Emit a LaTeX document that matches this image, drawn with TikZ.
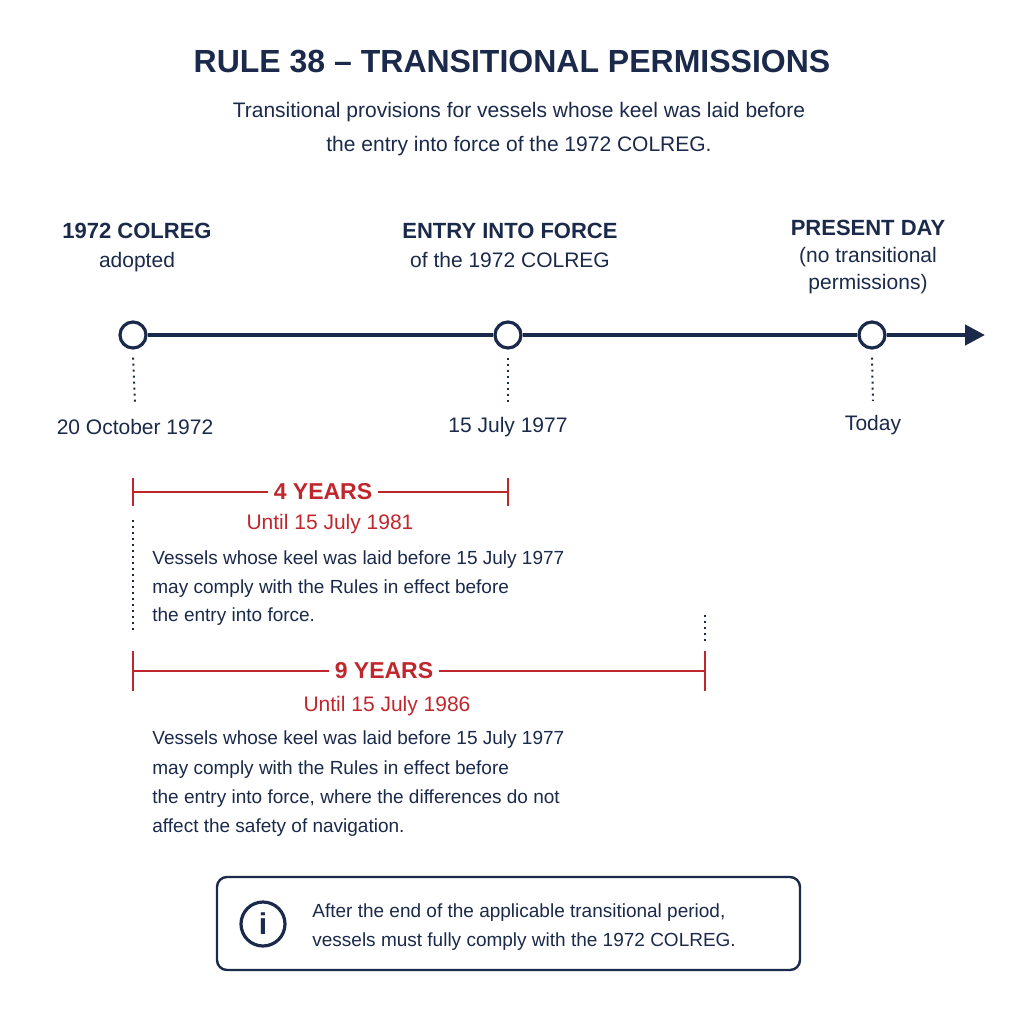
\documentclass[tikz,border=0pt]{standalone}
\usepackage{fontspec}
\setmainfont{Liberation Sans}
\usetikzlibrary{arrows.meta}
\definecolor{navy}{HTML}{1B2A4A}
\definecolor{rulered}{HTML}{C0272D}
\begin{document}
\begin{tikzpicture}[x=0.5pt,y=-0.5pt,
    every node/.style={inner sep=1pt, text=navy},
    event/.style={circle, draw=navy, line width=1.6pt, fill=white, minimum size=13pt, inner sep=0pt},
    head/.style={font=\fontsize{11}{13}\selectfont\bfseries},
    sub/.style={font=\fontsize{10.5}{13}\selectfont},
    body/.style={font=\fontsize{9.5}{12}\selectfont, anchor=west},
    span/.style={draw=rulered, line width=1.1pt},
    spanlbl/.style={font=\fontsize{11.5}{13}\selectfont\bfseries, text=rulered, fill=white, inner sep=3pt},
    until/.style={font=\fontsize{10.5}{13}\selectfont, text=rulered},
    guide/.style={draw=navy, line width=1pt, dotted}]
    \useasboundingbox[fill=white] (0,0) rectangle (1024,1024);

    % title
    \node[font=\fontsize{16}{18}\selectfont\bfseries] (title) at (512,62) {RULE 38 – TRANSITIONAL PERMISSIONS};
    \node[sub] (intro1) at (519,112) {Transitional provisions for vessels whose keel was laid before};
    \node[sub] (intro2) at (519,146) {the entry into force of the 1972 COLREG.};

    % timeline
    \coordinate (tend) at (985,335);
    \node[event] (e1) at (133,335) {};
    \node[event] (e2) at (508,335) {};
    \node[event] (e3) at (872,335) {};
    \draw[navy, line width=2.2pt, -{Triangle[length=10pt,width=10pt]}] (e1) -- (e2) -- (e3) -- (tend);

    \node[head] (h1) at (137,231) {1972 COLREG};
    \node[sub] (s1) at (137,262) {adopted};
    \node[head] (h2) at (510,231) {ENTRY INTO FORCE};
    \node[sub] (s2) at (510,260) {of the 1972 COLREG};
    \node[head] (h3) at (868,228) {PRESENT DAY};
    \node[sub] (s3) at (868,257) {(no transitional};
    \node[sub] (s3b) at (868,284) {permissions)};

    \node[sub] (d1) at (135,427) {20 October 1972};
    \node[sub] (d2) at (508,427) {15 July 1977};
    \node[sub] (d3) at (873,425) {Today};
    \foreach \e/\d in {e1/d1,e2/d2,e3/d3}
        \draw[guide] ([yshift=-4pt]\e.south) -- ([yshift=6pt]\d.north);

    % 4 years
    \coordinate (a1) at (133,492);
    \coordinate (a2) at (508,492);
    \draw[span] (a1) -- (a2);
    \foreach \p in {a1,a2} \draw[span] ([yshift=7pt]\p) -- ([yshift=-7pt]\p);
    \node[spanlbl] (y4) at (323,492) {4 YEARS};
    \node[until] (u4) at (330,524) {Until 15 July 1981};
    \node[body] (t41) at (150,560) {Vessels whose keel was laid before 15 July 1977};
    \node[body] (t42) at (150,589) {may comply with the Rules in effect before};
    \node[body] (t43) at (150,617) {the entry into force.};

    % 9 years
    \coordinate (b1) at (133,671);
    \coordinate (b2) at (705,671);
    \draw[guide] (133,520) -- (133,632);
    \draw[guide] (705,615) -- (705,642);
    \draw[span] (b1) -- (b2);
    \foreach \p in {b1,b2} \draw[span] ([yshift=10pt]\p) -- ([yshift=-10pt]\p);
    \node[spanlbl] (y9) at (384,671) {9 YEARS};
    \node[until] (u9) at (387,706) {Until 15 July 1986};
    \node[body] (t91) at (150,740) {Vessels whose keel was laid before 15 July 1977};
    \node[body] (t92) at (150,770) {may comply with the Rules in effect before};
    \node[body] (t93) at (150,799) {the entry into force, where the differences do not};
    \node[body] (t94) at (150,828) {affect the safety of navigation.};

    % note
    \draw[navy, line width=1.2pt, rounded corners=5pt] (217,877) rectangle (800,970);
    \node[circle, draw=navy, line width=1.6pt, minimum size=22pt, inner sep=0pt,
        font=\fontsize{15}{15}\selectfont\bfseries\rmfamily] (info) at (263,924) {i};
    \node[body] (n1) at (310,913) {After the end of the applicable transitional period,};
    \node[body] (n2) at (310,942) {vessels must fully comply with the 1972 COLREG.};
\end{tikzpicture}
\end{document}
